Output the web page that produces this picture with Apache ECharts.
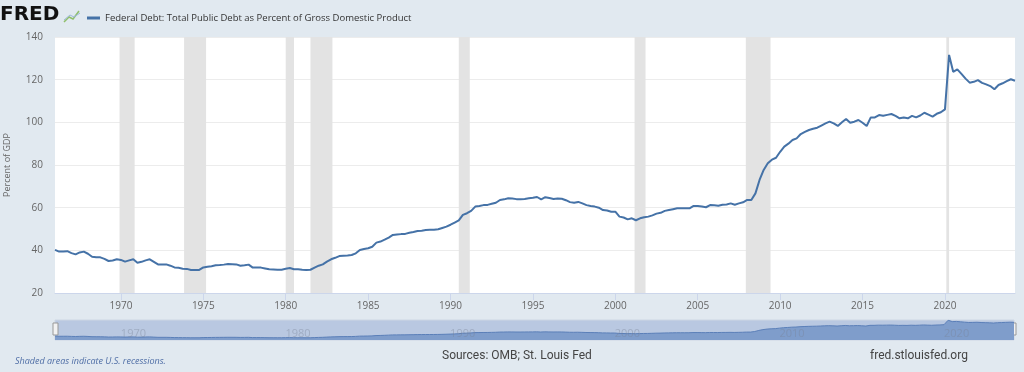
<!DOCTYPE html>
<html><head><meta charset="utf-8">
<script src="https://cdn.jsdelivr.net/npm/echarts@6/dist/echarts.min.js"></script>
<style>html,body{margin:0;padding:0;background:#e1e9f0}#c{width:1024px;height:372px}</style>
</head><body><div id="c"></div>
<script>
// Quarterly data starting 1966 Q1
const startYear = 1966;
const seriesName = 'Federal Debt: Total Public Debt as Percent of Gross Domestic Product';
const debtPctGdp = [
  40.2, 39.4, 39.5, 39.6,   // 1966
  38.7, 38.1, 39.0, 39.4,   // 1967
  38.4, 37.0, 36.8, 36.7,   // 1968
  36.0, 35.0, 35.2, 35.8,   // 1969
  35.5, 34.7, 35.3, 35.8,   // 1970
  34.2, 34.6, 35.3, 35.8,   // 1971
  34.6, 33.4, 33.4, 33.4,   // 1972
  32.8, 32.0, 31.8, 31.4,   // 1973
  31.3, 30.8, 30.8, 30.8,   // 1974
  32.0, 32.3, 32.5, 33.0,   // 1975
  33.1, 33.3, 33.6, 33.5,   // 1976
  33.4, 32.8, 33.0, 33.3,   // 1977
  31.9, 31.9, 31.9, 31.5,   // 1978
  31.1, 31.0, 30.9, 30.9,   // 1979
  31.4, 31.7, 31.1, 31.1,   // 1980
  30.9, 30.8, 30.9, 31.9,   // 1981
  32.8, 33.4, 34.7, 35.8,   // 1982
  36.5, 37.3, 37.5, 37.6,   // 1983
  37.8, 38.6, 40.2, 40.6,   // 1984
  41.0, 41.7, 43.6, 44.1,   // 1985
  45.0, 46.0, 47.2, 47.4,   // 1986
  47.6, 47.7, 48.2, 48.6,   // 1987
  49.1, 49.2, 49.5, 49.6,   // 1988
  49.7, 49.9, 50.5, 51.1,   // 1989
  52.0, 53.0, 54.0, 56.6,   // 1990
  57.4, 58.5, 60.5, 60.8,   // 1991
  61.2, 61.3, 61.8, 62.3,   // 1992
  63.6, 63.9, 64.4, 64.3,   // 1993
  64.0, 63.9, 64.1, 64.4,   // 1994
  64.6, 65.0, 63.9, 64.9,   // 1995
  64.5, 64.1, 64.3, 64.2,   // 1996
  63.5, 62.6, 62.3, 62.7,   // 1997
  62.0, 61.2, 60.8, 60.5,   // 1998
  60.0, 58.9, 58.7, 58.1,   // 1999
  58.1, 55.8, 55.4, 54.5,   // 2000
  55.0, 54.1, 55.0, 55.5,   // 2001
  55.8, 56.4, 57.2, 57.6,   // 2002
  58.5, 58.9, 59.3, 59.7,   // 2003
  59.7, 59.7, 59.7, 60.8,   // 2004
  60.8, 60.5, 60.2, 61.2,   // 2005
  61.1, 60.9, 61.4, 61.5,   // 2006
  62.0, 61.4, 62.0, 62.5,   // 2007
  63.6, 63.6, 66.7, 73.0,   // 2008
  77.7, 80.8, 82.5, 83.4,   // 2009
  86.2, 88.6, 90.0, 91.7,   // 2010
  92.5, 94.5, 95.5, 96.4,   // 2011
  97.0, 97.5, 98.5, 99.5,   // 2012
  100.3, 99.5, 98.3, 100.0, // 2013
  101.6, 99.8, 100.3, 101.1,// 2014
  99.8, 98.3, 102.3, 102.3, // 2015
  103.4, 103.1, 103.5, 103.9,// 2016
  103.0, 101.9, 102.3, 101.9,// 2017
  103.0, 102.3, 103.2, 104.5,// 2018
  103.6, 102.7, 104.0, 104.7,// 2019
  106.1, 131.6, 123.7, 124.8,// 2020
  122.7, 120.5, 118.6, 119.0,// 2021
  119.8, 118.5, 117.8, 117.0,// 2022
  115.5, 117.5, 118.3, 119.3,// 2023
  120.2, 119.5              // 2024
];
const recessions = [
  [1969.917, 1970.833], [1973.833, 1975.167], [1980.0, 1980.5], [1981.5, 1982.833],
  [1990.5, 1991.167], [2001.167, 2001.833], [2007.917, 2009.417], [2020.083, 2020.25]
];
const yearTicks = [1970, 1975, 1980, 1985, 1990, 1995, 2000, 2005, 2010, 2015, 2020];
const navTicks = [1970, 1980, 1990, 2000, 2010, 2020];

const points = debtPctGdp.map((v, i) => [startYear + i / 4, v]);
const xMin = startYear, xMax = startYear + (debtPctGdp.length - 1) / 4;

const chart = echarts.init(document.getElementById('c'), null, {renderer: 'canvas'});
chart.setOption({
  backgroundColor: '#e1e9f0',
  animation: false,
  textStyle: {fontFamily: 'Open Sans'},
  legend: {
    data: [seriesName], left: 82, top: 8, icon: 'rect', itemWidth: 13, itemHeight: 3, itemGap: 4,
    textStyle: {fontSize: 9.5, color: '#333', fontFamily: 'Open Sans'}
  },
  grid: [
    {left: 55, right: 9, top: 37, height: 256, show: true, backgroundColor: '#ffffff', borderWidth: 0,
      containLabel: false, outerBoundsMode: 'none'},
    {left: 55, right: 10, top: 320, height: 20, show: true, backgroundColor: '#b9c8e1', borderColor: '#cdd6e4', borderWidth: 1,
      containLabel: false, outerBoundsMode: 'none'}
  ],
  xAxis: [
    {
      gridIndex: 0, type: 'value', min: xMin, max: xMax,
      splitLine: {show: false},
      axisLine: {show: true, lineStyle: {color: '#ccd6eb'}},
      axisTick: {show: true, customValues: yearTicks, length: 7, lineStyle: {color: '#ccd6eb'}},
      axisLabel: {customValues: yearTicks, formatter: v => String(v), fontSize: 10, color: '#666', margin: 8}
    },
    {
      gridIndex: 1, type: 'value', min: xMin, max: xMax, z: 5,
      splitLine: {show: false}, axisLine: {show: false}, axisTick: {show: false},
      axisLabel: {inside: true, customValues: navTicks, formatter: v => String(v), fontSize: 11,
        color: 'rgba(120,130,150,0.4)', align: 'left', margin: 1}
    }
  ],
  yAxis: [
    {
      gridIndex: 0, type: 'value', min: 20, max: 140, interval: 20,
      splitLine: {lineStyle: {color: '#ececec'}},
      axisLine: {show: false}, axisTick: {show: false},
      axisLabel: {fontSize: 10, color: '#666', margin: 12},
      name: 'Percent of GDP', nameLocation: 'middle', nameGap: 43,
      nameTextStyle: {fontSize: 9, color: '#666'}
    },
    {gridIndex: 1, type: 'value', min: 18, max: 133, show: false}
  ],
  series: [
    {
      name: seriesName, type: 'line', xAxisIndex: 0, yAxisIndex: 0, data: points,
      showSymbol: false, symbol: 'none', lineStyle: {color: '#4572a7', width: 2}, itemStyle: {color: '#4572a7'},
      markArea: {silent: true, itemStyle: {color: '#e3e3e3'},
        data: recessions.map(r => [{xAxis: r[0]}, {xAxis: r[1]}])}
    },
    {
      name: 'nav', type: 'line', xAxisIndex: 1, yAxisIndex: 1, data: points,
      showSymbol: false, symbol: 'none', lineStyle: {color: '#5b7fb8', width: 1},
      areaStyle: {color: '#7f9dcb', opacity: 1}
    }
  ],
  graphic: [
    {type: 'text', left: 0, top: 5, style: {text: 'FRED', fontSize: 20, fontWeight: 900, fontFamily: 'DejaVu Sans', fill: '#111'}},
    {type: 'polyline', shape: {points: [[64, 22], [69, 17], [73, 19], [79, 11]]}, style: {stroke: '#8fbf6a', lineWidth: 1.5, fill: null}},
    {type: 'polyline', shape: {points: [[64, 20], [70, 15], [74, 17], [80, 13]]}, style: {stroke: '#9db9d8', lineWidth: 1, fill: null}},
    {type: 'rect', shape: {x: 53, y: 323, width: 5, height: 12}, style: {fill: '#f2f2f2', stroke: '#999', lineWidth: 1}},
    {type: 'rect', shape: {x: 1011, y: 323, width: 5, height: 12}, style: {fill: '#f2f2f2', stroke: '#999', lineWidth: 1}},
    {type: 'text', left: 15, top: 357, style: {text: 'Shaded areas indicate U.S. recessions.', fontSize: 9, fontStyle: 'italic', fontFamily: 'Open Sans', fill: '#4f6ea6'}},
    {type: 'text', left: 442, top: 350, style: {text: 'Sources: OMB; St. Louis Fed', fontSize: 12, fontFamily: 'Roboto', fill: '#444'}},
    {type: 'text', left: 870, top: 350, style: {text: 'fred.stlouisfed.org', fontSize: 12, fontFamily: 'Roboto', fill: '#444'}}
  ]
});
</script></body></html>
